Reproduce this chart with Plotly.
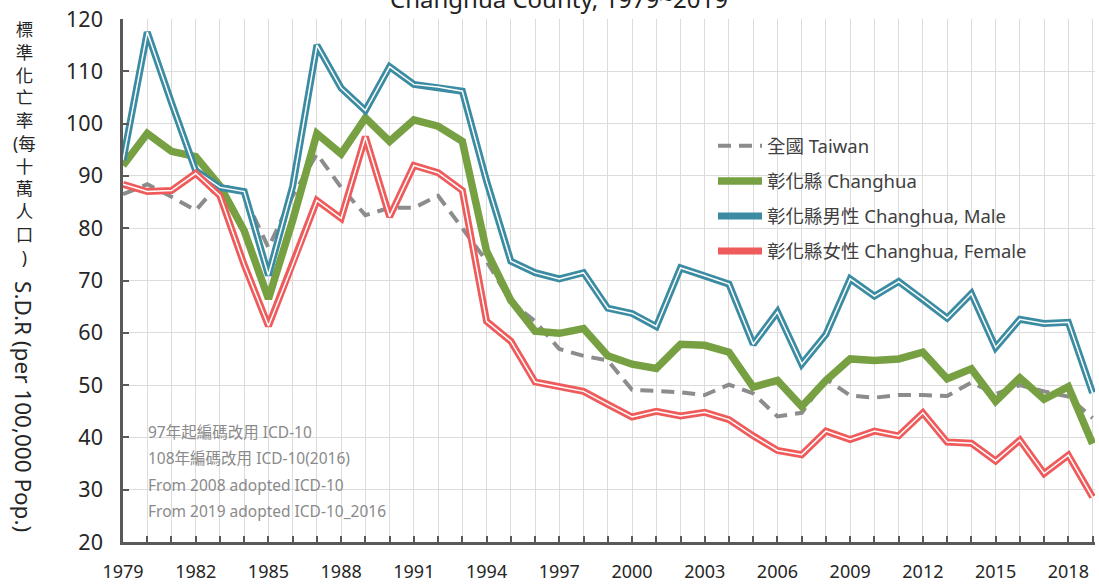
import plotly.graph_objects as go

years = list(range(1979, 2020))

taiwan = [86.5, 88.4, 86.0, 83.4, 88.7, 86.2, 76.3, 86.2, 94.2, 87.8,
          82.5, 83.9, 83.9, 86.2, 80.0, 73.7, 65.9, 62.2, 56.9, 55.6,
          54.7, 49.1, 48.9, 48.6, 48.1, 50.1, 48.4, 44.0, 44.7, 51.2,
          48.0, 47.6, 48.1, 48.1, 47.9, 50.5, 48.3, 50.0, 48.8, 47.8, 43.7]

changhua = [92.0, 98.1, 94.7, 93.7, 88.1, 79.5, 66.5, 81.5, 98.1, 94.2,
            101.1, 96.6, 100.7, 99.5, 96.6, 75.6, 66.2, 60.3, 59.9, 60.8,
            55.6, 54.0, 53.2, 57.8, 57.6, 56.3, 49.6, 50.9, 45.9, 50.9,
            55.0, 54.7, 55.0, 56.3, 51.2, 53.1, 46.9, 51.4, 47.3, 49.7, 38.8]

male = [93.0, 117.5, 104.0, 91.0, 87.8, 87.0, 71.0, 88.0, 115.0, 106.8,
        102.5, 110.9, 107.5, 107.0, 106.2, 89.0, 73.7, 71.5, 70.3, 71.5,
        64.7, 63.7, 61.2, 72.4, 70.9, 69.3, 57.8, 64.0, 54.0, 59.7,
        70.3, 67.0, 69.8, 66.4, 62.8, 67.5, 57.2, 62.6, 61.8, 62.0, 48.5]

female = [88.4, 87.0, 87.2, 90.5, 86.2, 73.0, 61.3, 73.0, 85.3, 81.9,
          97.5, 82.2, 92.0, 90.6, 87.2, 62.2, 58.4, 50.6, 49.7, 48.8,
          46.3, 43.9, 45.0, 44.1, 44.8, 43.4, 40.3, 37.5, 36.7, 41.2,
          39.6, 41.2, 40.3, 44.7, 39.1, 38.9, 35.5, 39.5, 33.1, 36.6, 28.6]

names = ["全國 Taiwan", "彰化縣 Changhua", "彰化縣男性 Changhua, Male", "彰化縣女性 Changhua, Female"]
label_years = list(range(1979, 2020, 3))
tick_text = [str(y) if y in label_years else "" for y in years]
notes = ["97年起編碼改用 ICD-10", "108年編碼改用 ICD-10(2016)",
         "From 2008 adopted ICD-10", "From 2019 adopted ICD-10_2016"]
title_text = "Changhua County, 1979~2019"
ytitle_zh = ["標", "準", "化", "亡", "率", "(每", "十", "萬", "人", "口", ")"]
ytitle_en = "S.D.R (per 100,000 Pop.)"

FONT = "Noto Sans, Noto Sans CJK TC, sans-serif"
GREY = "#8c8c8c"
GREEN = "#77a043"
BLUE = "#3b8ca2"
RED = "#ef5b5b"
TXT = "#262626"

fig = go.Figure()
fig.add_trace(go.Scatter(x=years, y=taiwan, mode="lines", name=names[0], legendgroup="a",
                         line=dict(color=GREY, width=4, dash="13px,8px")))
fig.add_trace(go.Scatter(x=years, y=changhua, mode="lines", name=names[1], legendgroup="b",
                         line=dict(color=GREEN, width=7.5)))
fig.add_trace(go.Scatter(x=years, y=male, mode="lines", name=names[2], legendgroup="c",
                         line=dict(color=BLUE, width=7)))
fig.add_trace(go.Scatter(x=years, y=male, mode="lines", showlegend=False, legendgroup="c",
                         line=dict(color="white", width=1.5)))
fig.add_trace(go.Scatter(x=years, y=female, mode="lines", name=names[3], legendgroup="d",
                         line=dict(color=RED, width=7)))
fig.add_trace(go.Scatter(x=years, y=female, mode="lines", showlegend=False, legendgroup="d",
                         line=dict(color="white", width=1.5)))

W, H = 1099, 587
left_px, right_px = 123, 1095
top_px, bot_px = 17, 548
plot_w = right_px - left_px
plot_h = bot_px - top_px

def xpaper(px):
    return (px - left_px) / plot_w

def ypaper(px):
    return (bot_px - px) / plot_h

annotations = []
note_px = [436, 463, 490, 517]
for t, p in zip(notes, note_px):
    annotations.append(dict(text=t, xref="paper", yref="paper", x=xpaper(146), y=ypaper(p),
                            xanchor="left", yanchor="middle", showarrow=False,
                            font=dict(family=FONT, size=15.5, color="#8a8a8a")))
annotations.append(dict(text=title_text, xref="paper", yref="paper", x=xpaper(559),
                        y=ypaper(15), xanchor="center", yanchor="bottom", showarrow=False,
                        font=dict(family=FONT, size=24, color="#222222")))
annotations.append(dict(text="<br>".join(ytitle_zh), xref="paper", yref="paper",
                        x=xpaper(24), y=ypaper(14), xanchor="center", yanchor="top",
                        showarrow=False, align="center", borderpad=0,
                        font=dict(family=FONT, size=17.5, color=TXT)))
annotations.append(dict(text=ytitle_en, xref="paper", yref="paper", textangle=90,
                        x=xpaper(24), y=ypaper(410), xanchor="center", yanchor="middle",
                        showarrow=False, font=dict(family=FONT, size=22.5, color=TXT)))

fig.update_layout(
    width=W, height=H,
    margin=dict(l=left_px, r=W - right_px, t=top_px, b=H - bot_px),
    paper_bgcolor="white", plot_bgcolor="white",
    font=dict(family=FONT, color=TXT),
    showlegend=True,
    legend=dict(x=xpaper(713), y=ypaper(127), xanchor="left", yanchor="top",
                bgcolor="rgba(0,0,0,0)", font=dict(family=FONT, size=18.5, color="#404040"),
                itemwidth=44, traceorder="grouped", tracegroupgap=8),
    annotations=annotations,
    hovermode=False,
)
fig.update_xaxes(range=[1979, 2019.1], tickvals=years, ticktext=tick_text,
                 showgrid=True, gridcolor="#dcdcdc", gridwidth=1,
                 showline=True, linecolor="#595959", linewidth=2.5,
                 ticks="inside", ticklen=6, tickwidth=2, tickcolor="#595959",
                 ticklabelstandoff=12,
                 tickfont=dict(family=FONT, size=18, color=TXT), zeroline=False)
fig.update_yaxes(range=[20, 120], dtick=10, tick0=20,
                 showgrid=True, gridcolor="#dcdcdc", gridwidth=1,
                 showline=True, linecolor="#595959", linewidth=2.5,
                 ticks="inside", ticklen=6, tickwidth=2, tickcolor="#595959",
                 ticklabelstandoff=13,
                 tickfont=dict(family=FONT, size=21.5, color=TXT), zeroline=False)

fig.write_html("out.html", config={"displayModeBar": False},
               post_script="document.body.style.margin='0px';")
